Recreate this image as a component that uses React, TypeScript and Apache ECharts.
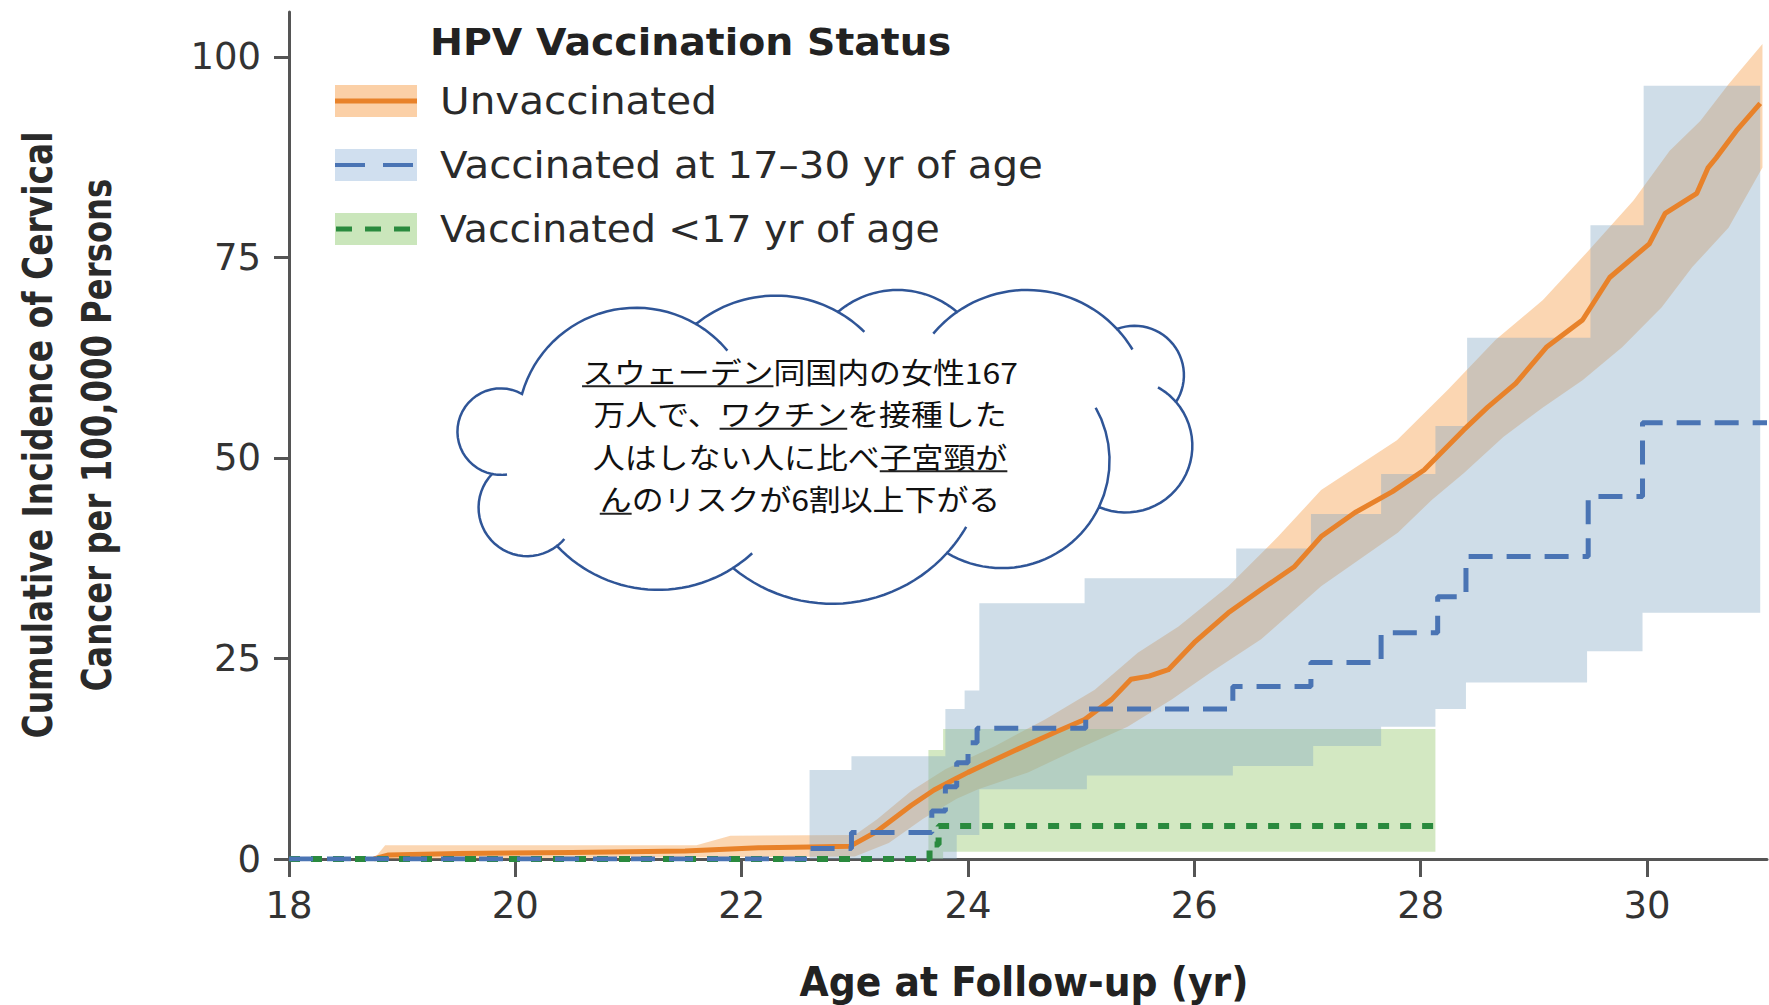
import React, { useEffect, useRef } from "react";
import * as echarts from "echarts";

// ---------- data ----------
const xTicks = [18, 20, 22, 24, 26, 28, 30];
const yTicks = [0, 25, 50, 75, 100];

// Unvaccinated: cumulative incidence line and its confidence band
const unvaccinatedLine: number[][] = [
  [18.75, 0], [18.88, 0.5], [19.5, 0.7], [20.5, 0.8], [21.5, 1.0], [22.15, 1.4], [22.6, 1.5],
  [22.96, 1.6], [23.19, 3.4], [23.5, 6.7], [23.7, 8.6], [23.89, 10.0], [24.0, 10.8], [24.18, 12.0],
  [24.44, 13.7], [24.77, 15.8], [25.03, 17.4], [25.27, 19.9], [25.44, 22.4], [25.6, 22.8],
  [25.77, 23.6], [26.0, 27.0], [26.3, 30.7], [26.59, 33.6], [26.88, 36.4], [27.12, 40.2],
  [27.42, 43.2], [27.75, 45.8], [28.03, 48.5], [28.38, 53.5], [28.59, 56.3], [28.84, 59.3],
  [29.11, 63.8], [29.43, 67.2], [29.67, 72.5], [30.02, 76.7], [30.16, 80.5], [30.44, 83.0],
  [30.54, 86.2], [30.61, 87.4], [30.79, 90.8], [31.0, 94.2],
];
const unvaccinatedUpper: number[][] = [
  [18.75, 0], [18.85, 1.7], [21.6, 1.7], [21.9, 2.9], [23.0, 3.0], [23.2, 5.0], [23.5, 8.5],
  [23.8, 11.2], [24.24, 14.1], [24.68, 17.4], [25.12, 21.1], [25.5, 25.7], [25.86, 29.0],
  [26.3, 34.0], [26.74, 40.2], [27.12, 46.0], [27.79, 52.2], [28.24, 58.5], [28.66, 64.7],
  [29.08, 69.7], [29.46, 75.5], [29.88, 82.1], [30.2, 88.3], [30.47, 92.0], [30.72, 96.6],
  [31.02, 101.6],
];
const unvaccinatedLower: number[][] = [
  [18.75, 0], [23.0, 0.3], [23.3, 2.0], [23.6, 5.0], [23.9, 7.5], [24.09, 8.7], [24.53, 10.8],
  [24.97, 13.7], [25.41, 16.5], [25.8, 19.9], [26.15, 23.3], [26.59, 27.4], [27.12, 34.0],
  [27.8, 40.7], [28.1, 44.8], [28.38, 48.1], [28.73, 52.6], [29.08, 56.3], [29.43, 59.7],
  [29.78, 63.8], [30.13, 68.8], [30.4, 73.8], [30.72, 78.7], [31.02, 86.2],
];

// Vaccinated at 17-30 yr: step estimate [age where the step starts, value]
const vacc1730Steps: number[][] = [
  [18, 0], [22.6, 1.3], [22.97, 3.3], [23.68, 6.0], [23.8, 9.0], [23.9, 12.0], [24.0, 14.5],
  [24.08, 16.3], [25.04, 18.7], [26.34, 21.5], [27.03, 24.5], [27.65, 28.2], [28.15, 32.7],
  [28.4, 37.7], [29.48, 45.2], [29.96, 54.4],
];
const vacc1730End = 31.06;
const vacc1730UpperSteps: number[][] = [
  [22.6, 11.1], [22.97, 12.8], [23.8, 18.7], [23.97, 21.0], [24.1, 31.9], [25.03, 35.0],
  [26.37, 38.7], [27.03, 43.0], [27.65, 48.0], [28.13, 54.0], [28.41, 65.0], [29.5, 79.0],
  [29.97, 96.4],
];
const vacc1730LowerSteps: number[][] = [
  [22.6, 0], [23.9, 3.0], [24.1, 8.7], [25.05, 10.4], [26.34, 11.6], [27.05, 14.1],
  [27.65, 16.5], [28.13, 18.7], [28.4, 22.0], [29.47, 25.9], [29.96, 30.7],
];
const vacc1730BandEnd = 31.0;

// Vaccinated <17 yr
const vaccUnder17Steps: number[][] = [[18, 0], [23.66, 1.8], [23.74, 4.1]];
const vaccUnder17End = 28.13;
const vaccUnder17UpperSteps: number[][] = [[23.65, 13.6], [23.78, 16.2]];
const vaccUnder17LowerSteps: number[][] = [[23.65, 0], [23.78, 0.9]];

// ---------- texts ----------
const legendTitle = "HPV Vaccination Status";
const legendLabels = ["Unvaccinated", "Vaccinated at 17\u201330 yr of age", "Vaccinated <17 yr of age"];
const xTitle = "Age at Follow-up (yr)";
const yTitleLines = ["Cumulative Incidence of Cervical", "Cancer per 100,000 Persons"];
const cloudLines = [
  [{ t: "スウェーデン", u: true }, { t: "同国内の女性167", u: false }],
  [{ t: "万人で、", u: false }, { t: "ワクチン", u: true }, { t: "を接種した", u: false }],
  [{ t: "人はしない人に比べ", u: false }, { t: "子宮頸が", u: true }],
  [{ t: "ん", u: true }, { t: "のリスクが6割以上下がる", u: false }],
];

// ---------- style / layout ----------
const ORANGE = "#e8822a";
const BLUE = "#4a74b4";
const GREEN = "#2a8a3e";
const AXIS = "#555555";
const TEXT = "#333333";
const FONT = "DejaVu Sans";
const CJK = "Noto Sans CJK JP";
const CLOUD_STROKE = "#2f5597";

const cloudJunctions = [
  [522, 394], [696, 324], [838, 312], [957, 312], [1117, 329], [1176, 402],
  [1099, 507], [947, 553], [733, 568], [557, 546], [492, 474],
];
const cloudSagitta = [46, 22, 22, 30, 34, 52, 35, 43, 32, 45, 50];
const cloudExt = [
  [0, 20], [0, 15], [0, 0], [15, 12], [0, 0], [20, 0], [55, 0], [12, 0], [10, 0], [12, 0], [20, 0],
];

function stepOutline(steps: number[][], end: number) {
  const out: number[][] = [];
  steps.forEach((s, i) => {
    const nx = i < steps.length - 1 ? steps[i + 1][0] : end;
    out.push([s[0], s[1]], [nx, s[1]]);
  });
  return out;
}

function bandSeries(name: string, poly: number[][], fill: string, z: number) {
  return {
    type: "custom",
    name,
    silent: true,
    z,
    data: poly,
    encode: { x: 0, y: 1 },
    renderItem: (params: any, api: any) => {
      if (params.dataIndex !== 0) return null;
      const pts = poly.map((p) => api.coord(p));
      return { type: "polygon", shape: { points: pts }, style: { fill } };
    },
  };
}

function bump(P: number[], Q: number[], s: number) {
  const dx = Q[0] - P[0];
  const dy = Q[1] - P[1];
  const c = Math.hypot(dx, dy);
  const nx = dy / c;
  const ny = -dx / c;
  const mx = (P[0] + Q[0]) / 2;
  const my = (P[1] + Q[1]) / 2;
  const r = (c * c / 4 + s * s) / (2 * s);
  const cx = mx + nx * (s - r);
  const cy = my + ny * (s - r);
  const a1 = Math.atan2(P[1] - cy, P[0] - cx);
  const a2 = Math.atan2(Q[1] - cy, Q[0] - cx);
  const ap = Math.atan2(ny, nx);
  const TAU = Math.PI * 2;
  const mod = (v: number) => ((v % TAU) + TAU) % TAU;
  let sgn = 1;
  if (mod(ap - a1) > mod(a2 - a1)) sgn = -1;
  const sweep = sgn === 1 ? mod(a2 - a1) : mod(a1 - a2);
  const pt = (a: number) => [cx + r * Math.cos(a), cy + r * Math.sin(a)];
  const arc = (from: number, to: number, n: number) => {
    const res: number[][] = [];
    for (let i = 0; i <= n; i++) res.push(pt(a1 + sgn * (from + (to - from) * (i / n))));
    return res;
  };
  return { sweep, arc };
}

export default function App() {
  const ref = useRef<HTMLDivElement>(null);

  useEffect(() => {
    const chart = echarts.init(ref.current!, null, { renderer: "svg" });
    const canvas = document.createElement("canvas");
    const ctx = canvas.getContext("2d")!;
    const measure = (text: string, font: string) => {
      ctx.font = font;
      return ctx.measureText(text).width;
    };
    const fitScale = (text: string, weight: string, size: number, family: string, target: number) =>
      target / measure(text, `${weight} ${size}px "${family}"`);

    const graphics: any[] = [];

    // ----- legend -----
    graphics.push({
      type: "text", x: 430, y: 42, z: 60, scaleX: fitScale(legendTitle, "bold", 37, FONT, 521),
      style: { text: legendTitle, fontFamily: FONT, fontSize: 37, fontWeight: "bold", fill: "#222",
        align: "left", verticalAlign: "middle", textAlign: "left", textVerticalAlign: "middle" },
    });
    const legendY = [101, 165, 229];
    const legendFill = ["rgba(247,170,95,0.55)", "rgba(150,185,220,0.45)", "rgba(150,205,120,0.5)"];
    const legendWidths = [277, 603, 500];
    legendY.forEach((cy, i) => {
      graphics.push({ type: "rect", z: 60, shape: { x: 335, y: cy - 16, width: 82, height: 32 }, style: { fill: legendFill[i] } });
      if (i === 0) {
        graphics.push({ type: "line", z: 61, shape: { x1: 335, y1: cy, x2: 417, y2: cy }, style: { stroke: ORANGE, lineWidth: 5 } });
      } else if (i === 1) {
        graphics.push({ type: "line", z: 61, shape: { x1: 335, y1: cy, x2: 417, y2: cy }, style: { stroke: BLUE, lineWidth: 4, lineDash: [30, 18] } });
      } else {
        graphics.push({ type: "line", z: 61, shape: { x1: 336, y1: cy, x2: 417, y2: cy }, style: { stroke: GREEN, lineWidth: 5, lineDash: [16, 13] } });
      }
      graphics.push({
        type: "text", x: 440, y: cy, z: 60, scaleX: fitScale(legendLabels[i], "normal", 37, FONT, legendWidths[i]),
        style: { text: legendLabels[i], fontFamily: FONT, fontSize: 37, fill: "#2a2a2a",
          align: "left", verticalAlign: "middle", textAlign: "left", textVerticalAlign: "middle" },
      });
    });

    // ----- axis titles -----
    graphics.push({
      type: "text", x: 1024, y: 982, z: 60, scaleX: fitScale(xTitle, "bold", 40, FONT, 449),
      style: { text: xTitle, fontFamily: FONT, fontSize: 40, fontWeight: "bold", fill: "#222",
        align: "center", verticalAlign: "middle", textAlign: "center", textVerticalAlign: "middle" },
    });
    const yTitleX = [38, 97];
    const yTitleW = [607, 513];
    yTitleLines.forEach((t, i) => {
      graphics.push({
        type: "text", x: yTitleX[i], y: 435, rotation: Math.PI / 2, z: 60,
        scaleX: fitScale(t, "bold", 40, FONT, yTitleW[i]),
        style: { text: t, fontFamily: FONT, fontSize: 40, fontWeight: "bold", fill: "#2a2a2a",
          align: "center", verticalAlign: "middle", textAlign: "center", textVerticalAlign: "middle" },
      });
    });

    // ----- cloud callout -----
    const outline: number[][] = [];
    const ticks: number[][][] = [];
    cloudJunctions.forEach((P, i) => {
      const Q = cloudJunctions[(i + 1) % cloudJunctions.length];
      const b = bump(P, Q, cloudSagitta[i]);
      const pts = b.arc(0, b.sweep, 28);
      outline.push(...pts.slice(0, -1));
      const [e0, e1] = cloudExt[i];
      if (e0 > 0) ticks.push(b.arc(-(e0 * Math.PI) / 180, 0, 8));
      if (e1 > 0) ticks.push(b.arc(b.sweep, b.sweep + (e1 * Math.PI) / 180, 8));
    });
    graphics.push({ type: "polygon", z: 100, shape: { points: outline }, style: { fill: "#ffffff", stroke: CLOUD_STROKE, lineWidth: 2.5 } });
    ticks.forEach((pts) => {
      graphics.push({ type: "polyline", z: 101, shape: { points: pts }, style: { fill: null, stroke: CLOUD_STROKE, lineWidth: 2.5 } });
    });
    const cloudCx = 800;
    const cloudFontSize = 29;
    const cloudScaleX = 1.1;
    const cloudLineH = 42.5;
    const cloudMidY = 435;
    const cjkFont = `normal ${cloudFontSize}px "${CJK}"`;
    cloudLines.forEach((segs, li) => {
      const full = segs.map((s) => s.t).join("");
      const lineCy = cloudMidY + (li - (cloudLines.length - 1) / 2) * cloudLineH;
      graphics.push({
        type: "text", x: cloudCx, y: lineCy, z: 102, scaleX: cloudScaleX,
        style: { text: full, fontFamily: CJK, fontSize: cloudFontSize, fill: "#111",
          align: "center", verticalAlign: "middle", textAlign: "center", textVerticalAlign: "middle" },
      });
      const w = measure(full, cjkFont) * cloudScaleX;
      let left = cloudCx - w / 2;
      segs.forEach((s) => {
        const sw = measure(s.t, cjkFont) * cloudScaleX;
        if (s.u) {
          const uy = lineCy + 15;
          graphics.push({ type: "line", z: 102, shape: { x1: left, y1: uy, x2: left + sw, y2: uy }, style: { stroke: "#222", lineWidth: 2 } });
        }
        left += sw;
      });
    });

    // ----- series -----
    const orangeBand = unvaccinatedUpper.concat(unvaccinatedLower.slice().reverse());
    const blueBand = stepOutline(vacc1730UpperSteps, vacc1730BandEnd).concat(
      stepOutline(vacc1730LowerSteps, vacc1730BandEnd).reverse()
    );
    const greenBand = stepOutline(vaccUnder17UpperSteps, vaccUnder17End).concat(
      stepOutline(vaccUnder17LowerSteps, vaccUnder17End).reverse()
    );
    const blueLine = vacc1730Steps.concat([[vacc1730End, vacc1730Steps[vacc1730Steps.length - 1][1]]]);
    const greenLine = vaccUnder17Steps.concat([[vaccUnder17End, vaccUnder17Steps[vaccUnder17Steps.length - 1][1]]]);

    const option: any = {
      animation: false,
      backgroundColor: "#ffffff",
      grid: { left: 289, right: 2, top: 12, bottom: 146, containLabel: false },
      xAxis: {
        type: "value", min: 18, max: 31.06,
        axisLine: { show: true, onZero: false, lineStyle: { color: AXIS, width: 3 } },
        axisTick: { show: true, length: 18, customValues: xTicks, lineStyle: { color: AXIS, width: 3 } },
        axisLabel: { customValues: xTicks, fontFamily: FONT, fontSize: 37, color: TEXT, margin: 28 },
        splitLine: { show: false },
      },
      yAxis: {
        type: "value", min: 0, max: 105.6,
        axisLine: { show: true, lineStyle: { color: AXIS, width: 3 } },
        axisTick: { show: true, length: 15, customValues: yTicks, lineStyle: { color: AXIS, width: 3 } },
        axisLabel: { customValues: yTicks, fontFamily: FONT, fontSize: 37, color: TEXT, margin: 28 },
        splitLine: { show: false },
      },
      series: [
        bandSeries("Unvaccinated CI", orangeBand, "rgba(247,165,85,0.45)", 1),
        bandSeries("Vaccinated <17 yr CI", greenBand, "rgba(150,200,110,0.42)", 1),
        bandSeries("Vaccinated 17-30 yr CI", blueBand, "rgba(130,165,195,0.38)", 1),
        {
          type: "line", name: legendLabels[0], data: unvaccinatedLine, showSymbol: false, silent: true, z: 3,
          lineStyle: { color: ORANGE, width: 5, join: "round" },
        },
        {
          type: "line", name: legendLabels[2], data: greenLine, step: "end", showSymbol: false, silent: true, z: 4,
          lineStyle: { color: GREEN, width: 6, type: [11, 11] },
        },
        {
          type: "line", name: legendLabels[1], data: blueLine, step: "end", showSymbol: false, silent: true, z: 4,
          lineStyle: { color: BLUE, width: 5, type: [24, 14] },
        },
      ],
      graphic: graphics,
    };
    chart.setOption(option);
    return () => chart.dispose();
  }, []);

  return (
    <div
      ref={ref}
      style={{ position: "fixed", left: 0, top: 0, width: 1769, height: 1005, background: "#fff" }}
    />
  );
}
